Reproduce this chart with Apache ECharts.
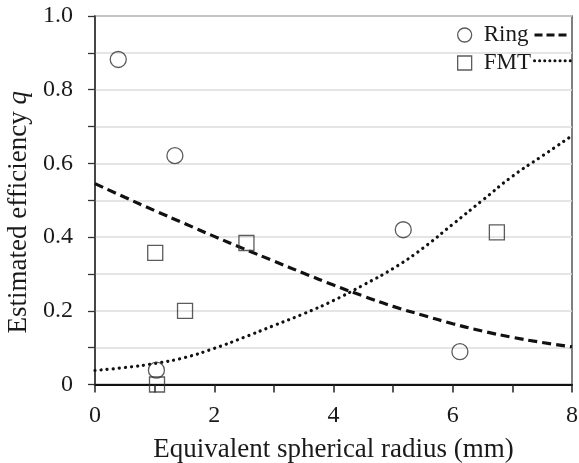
<!DOCTYPE html>
<html>
<head>
<meta charset="utf-8">
<script src="https://cdn.jsdelivr.net/npm/echarts@6/dist/echarts.min.js"></script>
<style>html,body{margin:0;padding:0;background:#fff}#c{width:579px;height:463px}</style>
</head>
<body>
<div id="c"></div>
<script>
// Measured points (Equivalent spherical radius mm, efficiency q)
const ringX = [0.39, 1.34, 1.03, 5.17, 6.12];
const ringY = [0.882, 0.621, 0.039, 0.42, 0.089];
const fmtX = [1.01, 1.51, 2.54, 1.04, 6.74];
const fmtY = [0.357, 0.20, 0.384, 0.0, 0.413];
// Fit curves
const fitX = [0, 0.5, 1, 1.5, 2, 2.5, 3, 3.5, 4, 4.5, 5, 5.5, 6, 6.5, 7, 7.5, 8];
const ringFit = [0.545, 0.508, 0.472, 0.437, 0.402, 0.368, 0.335, 0.302, 0.270, 0.240, 0.212, 0.188, 0.165, 0.145, 0.128, 0.114, 0.102];
const fmtFit = [0.038, 0.046, 0.057, 0.073, 0.098, 0.128, 0.160, 0.192, 0.228, 0.270, 0.315, 0.370, 0.435, 0.500, 0.565, 0.620, 0.675];
const xTicks = ['0', '2', '4', '6', '8'];
const yTicks = ['0', '0.2', '0.4', '0.6', '0.8', '1.0'];

const FONT = "'Liberation Serif','Times New Roman',serif";
const zip = (a, b) => a.map((v, i) => [v, b[i]]);

const chart = echarts.init(document.getElementById('c'), null, {renderer: 'canvas'});
chart.setOption({
  animation: false,
  backgroundColor: '#fff',
  textStyle: {fontFamily: FONT, color: '#1a1a1a'},
  grid: {left: 95, right: 7, top: 16, bottom: 78.5, show: true, borderColor: '#555', borderWidth: 1.5,
    containLabel: false, outerBoundsMode: 'none'},
  legend: [
    {
      data: ['Ring', 'FMT'],
      orient: 'vertical', left: 452, top: 18.5, itemGap: 5,
      itemWidth: 14, itemHeight: 14,
      textStyle: {fontFamily: FONT, fontSize: 23, color: '#1a1a1a', padding: [0, 0, 0, 7]},
      itemStyle: {color: 'transparent', borderColor: '#333', borderWidth: 1.3}
    },
    {
      data: [
        {name: 'Ring fit', lineStyle: {type: [8, 4], width: 3, cap: 'butt'}},
        {name: 'FMT fit', lineStyle: {type: [0.1, 5], width: 3, cap: 'round'}}
      ],
      orient: 'vertical', left: 528, top: 19, itemGap: 6,
      itemWidth: 36, itemHeight: 22,
      formatter: () => '',
      textStyle: {fontSize: 23},
      itemStyle: {color: 'rgba(0,0,0,0)', borderColor: 'rgba(0,0,0,0)', borderWidth: 0}
    }
  ],
  xAxis: {
    type: 'value', min: 0, max: 8, interval: 1,
    name: 'Equivalent spherical radius (mm)', nameLocation: 'middle', nameGap: 52,
    nameTextStyle: {fontFamily: FONT, fontSize: 27, color: '#1a1a1a'},
    axisLine: {show: true, lineStyle: {color: '#111', width: 2}},
    axisTick: {show: true, length: 8, lineStyle: {color: '#222', width: 1.5}},
    axisLabel: {fontFamily: FONT, fontSize: 24, color: '#1a1a1a', margin: 19,
      formatter: v => (Math.round(v) % 2 === 0 ? xTicks[Math.round(v) / 2] : '')},
    splitLine: {show: false}
  },
  yAxis: {
    type: 'value', min: 0, max: 1, interval: 0.1,
    name: 'Estimated efficiency {q|q}', nameLocation: 'middle', nameGap: 60,
    nameTextStyle: {fontFamily: FONT, fontSize: 27, color: '#1a1a1a', padding: [0, 24, 0, 0],
      rich: {q: {fontFamily: FONT, fontSize: 27, fontStyle: 'italic', color: '#1a1a1a'}}},
    axisLine: {show: true, lineStyle: {color: '#333', width: 1.5}},
    axisTick: {show: true, length: 7, lineStyle: {color: '#333', width: 1.3}},
    axisLabel: {fontFamily: FONT, fontSize: 24, color: '#1a1a1a', margin: 22,
      formatter: v => { const k = Math.round(v * 10); return k % 2 === 0 ? yTicks[k / 2] : ''; }},
    splitLine: {show: true, lineStyle: {color: '#dcdcdc', width: 1.5}}
  },
  series: [
    {
      name: 'Ring fit', type: 'line', data: zip(fitX, ringFit), smooth: true,
      symbol: 'none', lineStyle: {color: '#111', width: 3.2, type: [9, 5]}, itemStyle: {color: '#111'}, z: 3
    },
    {
      name: 'FMT fit', type: 'line', data: zip(fitX, fmtFit), smooth: true,
      symbol: 'none', lineStyle: {color: '#111', width: 3.2, type: [0.1, 6], cap: 'round'}, itemStyle: {color: '#111'}, z: 3
    },
    {
      name: 'Ring', type: 'scatter', data: zip(ringX, ringY), symbol: 'circle', symbolSize: 16,
      itemStyle: {color: 'transparent', borderColor: '#333', borderWidth: 1.3}, z: 4
    },
    {
      name: 'FMT', type: 'scatter', data: zip(fmtX, fmtY), symbol: 'rect', symbolSize: 15,
      itemStyle: {color: 'transparent', borderColor: '#333', borderWidth: 1.3}, z: 4
    }
  ]
});
</script>
</body>
</html>
